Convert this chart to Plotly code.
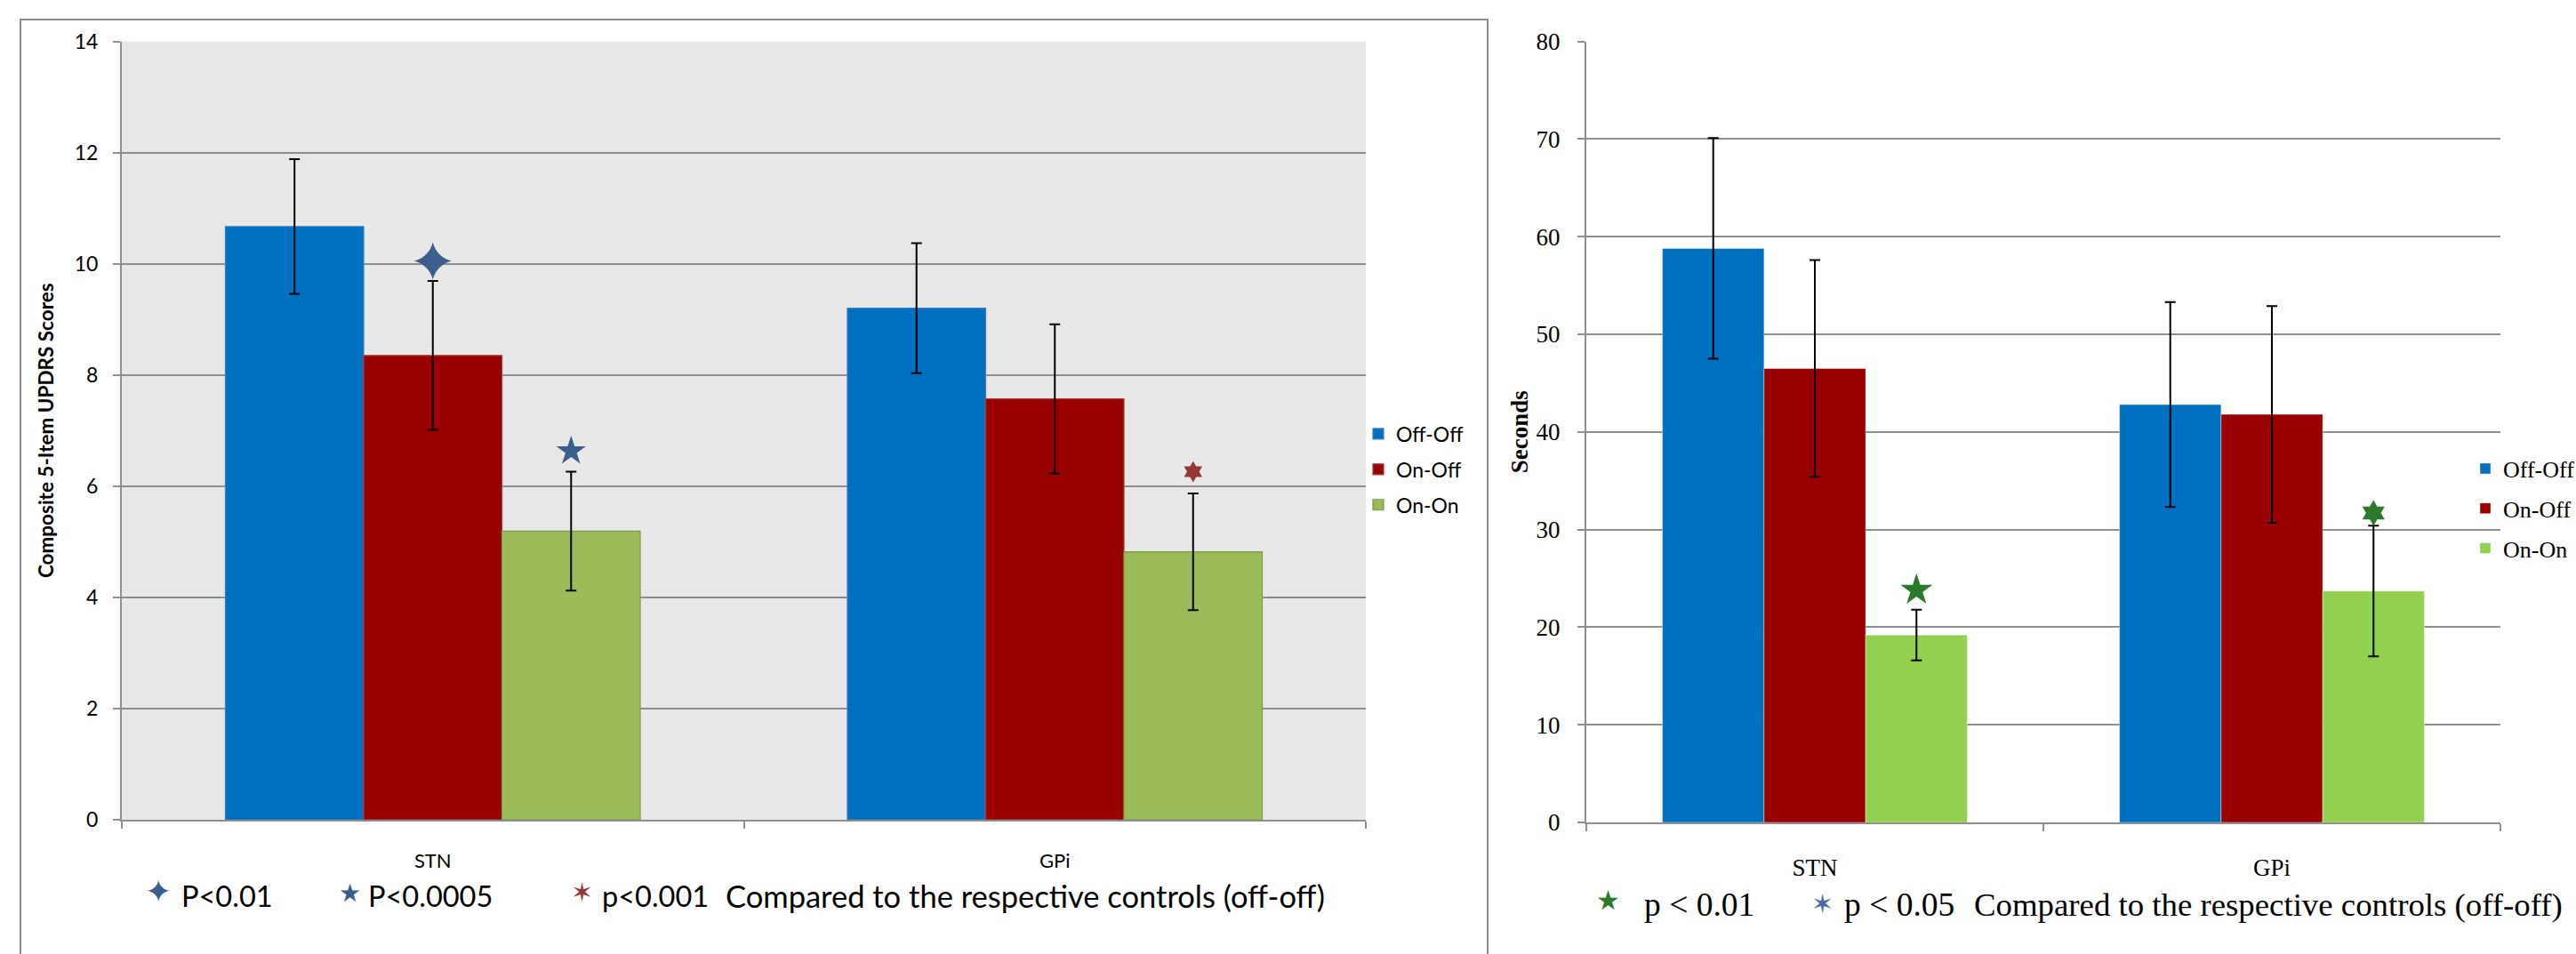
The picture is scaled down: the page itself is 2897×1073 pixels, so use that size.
import plotly.graph_objects as go

# ---------------- data ----------------
categories = ["STN", "GPi"]
series_names = ["Off-Off", "On-Off", "On-On"]

# Left panel: Composite 5-Item UPDRS scores (mean, error)
updrs_off_off = [10.67, 9.20]
updrs_on_off = [8.35, 7.57]
updrs_on_on = [5.19, 4.82]
updrs_off_off_err = [1.21, 1.17]
updrs_on_off_err = [1.34, 1.34]
updrs_on_on_err = [1.07, 1.05]
left_yticks = [0, 2, 4, 6, 8, 10, 12, 14]

# Right panel: Seconds (mean, error)
sec_off_off = [58.8, 42.8]
sec_on_off = [46.5, 41.8]
sec_on_on = [19.2, 23.7]
sec_off_off_err = [11.3, 10.5]
sec_on_off_err = [11.1, 11.1]
sec_on_on_err = [2.6, 6.7]
right_yticks = [0, 10, 20, 30, 40, 50, 60, 70, 80]

# significance marks: category index, series index, height
left_sig_cat = [0, 0, 1]
left_sig_series = [1, 2, 2]
left_sig_y = [10.05, 6.63, 6.26]
left_sig_labels = ["P<0.01", "P<0.0005", "p<0.001"]
right_sig_cat = [0, 1]
right_sig_series = [2, 2]
right_sig_y = [23.8, 31.7]
right_sig_labels = ["p < 0.01", "p < 0.05"]
note_text = "Compared to the respective controls (off-off)"

# ---------------- style ----------------
W, H = 2897, 1073
BARGAP = 0.333
GRID = "#8E8E8E"
SANS = "Lato, 'Open Sans', sans-serif"
SERIF = "'Liberation Serif', 'Times New Roman', serif"
GLYPH = "'DejaVu Sans'"

left_colors = ["#0070C0", "#990000", "#9BBB59"]
left_edges = ["#3F7FBF", "#A83A3A", "#7D9A45"]
right_colors = ["#0070C0", "#990000", "#92D050"]
left_sig_symbols = ["star-diamond", "star", "hexagram"]
left_sig_colors = ["#3A5F8F", "#3A5F8F", "#953735"]
left_sig_sizes = [30, 25, 18]
right_sig_symbols = ["star", "hexagram"]
right_sig_colors = ["#2A7A2A", "#2A7A2A"]
right_sig_sizes = [27, 22]


def px(x):
    return x / W


def py(y):
    return 1 - y / H


cat_x = list(range(len(categories)))
bar_w = (1 - BARGAP) / len(series_names)


def offset_x(ci, si):
    return ci + (si - (len(series_names) - 1) / 2) * bar_w


fig = go.Figure()

left_vals = [updrs_off_off, updrs_on_off, updrs_on_on]
left_errs = [updrs_off_off_err, updrs_on_off_err, updrs_on_on_err]
for i, name in enumerate(series_names):
    fig.add_trace(go.Bar(
        x=cat_x, y=left_vals[i], name=name, xaxis="x", yaxis="y",
        marker=dict(color=left_colors[i], line=dict(color=left_edges[i], width=1.2)),
        error_y=dict(type="data", array=left_errs[i], color="black", thickness=2, width=6),
        legend="legend", legendgroup="L" + name,
    ))

right_vals = [sec_off_off, sec_on_off, sec_on_on]
right_errs = [sec_off_off_err, sec_on_off_err, sec_on_on_err]
for i, name in enumerate(series_names):
    fig.add_trace(go.Bar(
        x=cat_x, y=right_vals[i], name=name, xaxis="x2", yaxis="y2",
        marker=dict(color=right_colors[i], line=dict(color="rgba(255,255,255,0.4)", width=1)),
        error_y=dict(type="data", array=right_errs[i], color="black", thickness=2, width=6),
        legend="legend2", legendgroup="R" + name,
    ))

for k in range(len(left_sig_y)):
    fig.add_trace(go.Scatter(
        x=[offset_x(left_sig_cat[k], left_sig_series[k])], y=[left_sig_y[k]],
        mode="markers", xaxis="x", yaxis="y", showlegend=False,
        name=left_sig_labels[k],
        marker=dict(symbol=left_sig_symbols[k], size=left_sig_sizes[k],
                    color=left_sig_colors[k], line=dict(width=0)),
    ))
for k in range(len(right_sig_y)):
    fig.add_trace(go.Scatter(
        x=[offset_x(right_sig_cat[k], right_sig_series[k])], y=[right_sig_y[k]],
        mode="markers", xaxis="x2", yaxis="y2", showlegend=False,
        name=right_sig_labels[k],
        marker=dict(symbol=right_sig_symbols[k], size=right_sig_sizes[k],
                    color=right_sig_colors[k], line=dict(width=0)),
    ))

xr = [-0.5, len(categories) - 0.5]
bounds = [c - 0.5 for c in cat_x] + [cat_x[-1] + 0.5]


def xaxis_cfg(domain, font, anchor):
    return dict(
        domain=domain, anchor=anchor, range=xr, tickmode="array", tickvals=cat_x, ticktext=categories,
        ticks="", showgrid=False, zeroline=False, showline=True, linecolor=GRID, linewidth=2,
        tickfont=font, ticklabelstandoff=26, fixedrange=True,
        minor=dict(tickmode="array", tickvals=bounds, ticks="outside", ticklen=8,
                   tickwidth=2, tickcolor=GRID, showgrid=False),
    )


def yaxis_cfg(domain, anchor, rng, ticks, family, size, tsize, title, standoff, tls):
    return dict(
        domain=domain, anchor=anchor, range=rng, tickmode="array", tickvals=ticks,
        ticks="outside", ticklen=8, tickwidth=2, tickcolor=GRID,
        showgrid=True, gridcolor=GRID, gridwidth=2, zeroline=False,
        showline=True, linecolor=GRID, linewidth=2,
        tickfont=dict(family=family, size=size, color="black"),
        ticklabelstandoff=tls,
        title=dict(text=title, font=dict(family=family, size=tsize, weight="bold", color="black"),
                   standoff=standoff),
        fixedrange=True,
    )


fig.update_layout(
    width=W, height=H, autosize=False,
    margin=dict(l=0, r=0, t=0, b=0, autoexpand=False),
    paper_bgcolor="white", plot_bgcolor="white",
    barmode="group", bargap=BARGAP, bargroupgap=0,
    xaxis=xaxis_cfg([px(137), px(1536)], dict(family=SANS, size=22, color="black"), "y"),
    yaxis=yaxis_cfg([py(922), py(46.5)], "x", [0, 14], left_yticks, SANS, 23, 22.5,
                    "Composite 5-Item UPDRS Scores", 17, 12),
    xaxis2=xaxis_cfg([px(1784), px(2812)], dict(family=SERIF, size=27, color="black"), "y2"),
    yaxis2=yaxis_cfg([py(925), py(46.6)], "x2", [0, 80], right_yticks, SERIF, 27, 27,
                     "Seconds", 1, 14),
    legend=dict(x=px(1530), y=py(528), xanchor="left", yanchor="middle",
                font=dict(family=SANS, size=23, color="black"), bgcolor="rgba(0,0,0,0)",
                traceorder="grouped", tracegroupgap=7, itemclick=False),
    legend2=dict(x=px(2775), y=py(572), xanchor="left", yanchor="middle",
                 font=dict(family=SERIF, size=26, color="black"), bgcolor="rgba(0,0,0,0)",
                 traceorder="grouped", tracegroupgap=8, itemclick=False),
    showlegend=True,
)

fig.update_layout(shapes=[
    dict(type="rect", xref="paper", yref="paper", layer="below",
         x0=px(137), x1=px(1536), y0=py(922), y1=py(46.5),
         fillcolor="#E8E8E8", line=dict(width=0)),
    dict(type="rect", xref="paper", yref="paper", layer="above",
         x0=px(23), x1=px(1673), y0=-0.2, y1=py(22),
         fillcolor="rgba(0,0,0,0)", line=dict(color="#8C8C8C", width=2)),
])

ann = []


def glyph(x, y, ch, color, size):
    ann.append(dict(xref="paper", yref="paper", x=px(x), y=py(y), text=ch, showarrow=False,
                    xanchor="center", yanchor="middle",
                    font=dict(family=GLYPH, size=size, color=color)))


def label(x, y, txt, fam, size):
    ann.append(dict(xref="paper", yref="paper", x=px(x), y=py(y), text=txt, showarrow=False,
                    xanchor="left", yanchor="middle",
                    font=dict(family=fam, size=size, color="black")))


# left key row
glyph(178, 1002, "\u2726", left_sig_colors[0], 36)
label(202, 1008, left_sig_labels[0], SANS, 32.5)
glyph(393, 1004, "\u2605", left_sig_colors[1], 28)
label(412, 1008, left_sig_labels[1], SANS, 32.5)
glyph(654, 1003, "\u2736", left_sig_colors[2], 30)
label(675, 1008, left_sig_labels[2], SANS, 32.5)
label(814, 1008, note_text, SANS, 34.5)
# right key row
glyph(1808, 1012, "\u2605", right_sig_colors[0], 30)
label(1847, 1017, right_sig_labels[0], SERIF, 37.5)
glyph(2049, 1016, "\u2736", "#4A6BA5", 30)
label(2072, 1017, right_sig_labels[1], SERIF, 37.5)
label(2218, 1017, note_text, SERIF, 36.8)

fig.update_layout(annotations=ann)
fig.write_html("out.html", config={"displayModeBar": False},
               post_script="document.body.style.margin='0px';document.body.style.overflow='hidden';")
